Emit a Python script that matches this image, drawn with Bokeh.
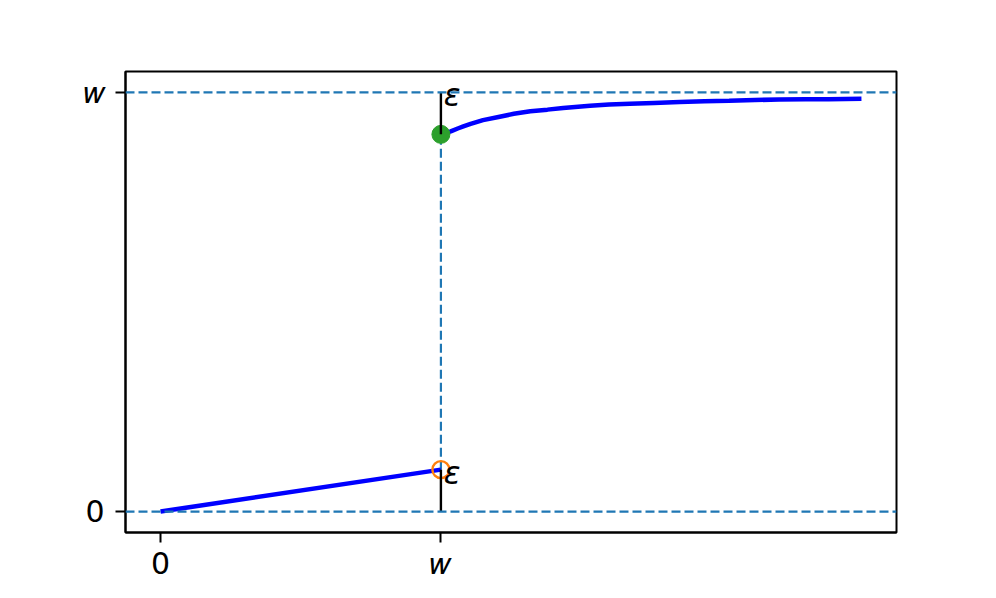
from bokeh.plotting import figure
from bokeh.models import Range1d, FixedTicker, Span
from bokeh.core.properties import value
from bokeh.embed import file_html
from bokeh.resources import INLINE

# ---- data (w = 1, epsilon = 0.1) ----
W = 1.0
EPS = 0.1
low_x = [0.0, 1.0]
low_y = [0.0, 0.1]
up_x = [1.0, 1.02, 1.035, 1.06, 1.08, 1.106, 1.15, 1.201, 1.26, 1.319, 1.38, 1.436, 1.532,
        1.6, 1.674, 1.76, 1.851, 1.94, 2.028, 2.12, 2.206, 2.3, 2.383, 2.5]
up_y = [0.901, 0.904, 0.907, 0.914, 0.919, 0.925, 0.934, 0.941, 0.949, 0.955, 0.959, 0.963, 0.968,
        0.971, 0.973, 0.975, 0.977, 0.979, 0.980, 0.982, 0.983, 0.984, 0.984, 0.985]
x_ticks = [0, 1]
x_tick_labels = ["0", "𝑤"]
y_ticks = [0, 1]
y_tick_labels = ["0", "𝑤"]
eps_label = "ε"

FONT = "DejaVu Sans"
DASH_BLUE = "#1f77b4"

p = figure(width=980, height=582, frame_width=771, frame_height=461,
           min_border_left=125, min_border_top=71, min_border_right=84, min_border_bottom=50,
           x_range=Range1d(-0.125, 2.625), y_range=Range1d(-0.05, 1.05),
           output_backend="svg", toolbar_location=None)
p.background_fill_color = "white"
p.border_fill_color = "white"
p.outline_line_color = "black"
p.outline_line_width = 2
p.grid.visible = False

for ax, ticks, labels in ((p.xaxis[0], x_ticks, x_tick_labels), (p.yaxis[0], y_ticks, y_tick_labels)):
    ax.ticker = FixedTicker(ticks=ticks)
    ax.major_label_overrides = {t: l for t, l in zip(ticks, labels)}
    ax.axis_line_width = 2
    ax.major_tick_line_width = 2
    ax.major_tick_out = 10
    ax.major_tick_in = 0
    ax.minor_tick_line_color = None
    ax.major_label_text_font = FONT
    ax.major_label_text_font_size = "30px"
    ax.major_label_text_color = "black"
p.xaxis[0].major_label_standoff = 3
p.yaxis[0].major_label_standoff = 11

# dashed reference lines
for yv in (0.0, W):
    p.add_layout(Span(location=yv, dimension="width", line_color=DASH_BLUE,
                      line_width=2.2, line_dash="9 4"))
p.line([W, W], [EPS, W - EPS], line_color=DASH_BLUE, line_width=2.2, line_dash="9 4")

# blue curves
p.line(low_x, low_y, line_color="blue", line_width=4.5)
p.line(up_x, up_y, line_color="blue", line_width=4.5)

# points
p.scatter([W], [W - EPS], size=18, fill_color="#2ca02c", line_color="#2ca02c")
p.scatter([W], [EPS], size=17, fill_color=None, line_color="#ff7f0e", line_width=2.4)

# epsilon segments
p.line([W, W], [W - EPS, W], line_color="black", line_width=2.4)
p.line([W, W], [0, EPS], line_color="black", line_width=2.4)

# epsilon labels
p.text(x=[W + 0.01, W + 0.01], y=[W - EPS / 2, EPS / 2], text=[eps_label, eps_label],
       text_font=value(FONT), text_font_style="italic", text_font_size="31px",
       text_baseline="bottom", text_align="left", text_color="black")

open("out.html", "w").write(file_html(p, INLINE))
